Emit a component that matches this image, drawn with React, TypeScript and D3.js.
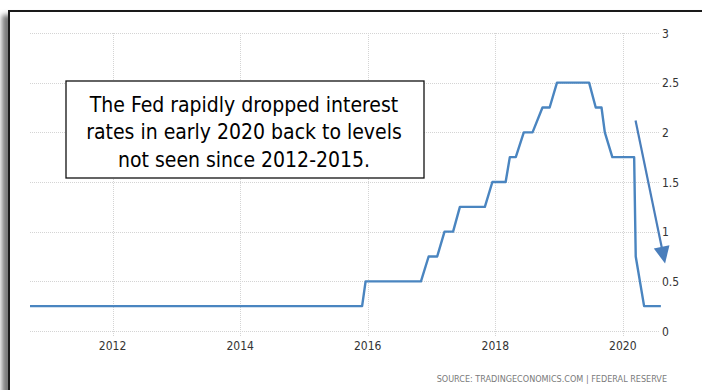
import React from "react";
import * as d3 from "d3";

const W = 702;
const H = 390;

// Fed funds rate (upper bound, %) step corners
const rateDates = [
  "2010-09-15", "2015-11-30", "2015-12-20", "2016-11-01", "2016-12-15",
  "2017-02-02", "2017-03-16", "2017-05-04", "2017-06-12", "2017-11-02",
  "2017-12-15", "2018-03-01", "2018-03-25", "2018-04-28", "2018-06-13",
  "2018-08-02", "2018-09-28", "2018-11-08", "2018-12-20", "2019-06-22",
  "2019-07-30", "2019-09-01", "2019-09-20", "2019-11-02", "2020-03-06",
  "2020-03-15", "2020-05-02", "2020-08-06",
];
const rateValues = [
  0.25, 0.25, 0.5, 0.5, 0.75,
  0.75, 1.0, 1.0, 1.25, 1.25,
  1.5, 1.5, 1.75, 1.75, 2.0,
  2.0, 2.25, 2.25, 2.5, 2.5,
  2.25, 2.25, 2.0, 1.75, 1.75,
  0.75, 0.25, 0.25,
];

const xTickYears = [2012, 2014, 2016, 2018, 2020];
const yTicks = [0, 0.5, 1, 1.5, 2, 2.5, 3];
const yTickLabels = ["0", "0.5", "1", "1.5", "2", "2.5", "3"];

const noteLines = [
  "The Fed rapidly dropped interest",
  "rates in early 2020 back to levels",
  "not seen since 2012-2015.",
];
const sourceText = "SOURCE: TRADINGECONOMICS.COM | FEDERAL RESERVE";

// arrow annotation in data space
const arrowFrom = { date: "2020-03-14", value: 2.12 };
const arrowTo = { date: "2020-08-30", value: 0.68 };

const parse = d3.utcParse("%Y-%m-%d");

export default function App() {
  const x = d3
    .scaleUtc()
    .domain([parse("2010-09-15")!, parse("2020-08-01")!])
    .range([30, 660]);
  const y = d3.scaleLinear().domain([0, 3]).range([331, 33]);

  const data = rateDates.map((d, i) => ({ date: parse(d)!, value: rateValues[i] }));
  const line = d3
    .line<{ date: Date; value: number }>()
    .x((d) => x(d.date))
    .y((d) => y(d.value));

  const ax1 = x(parse(arrowFrom.date)!);
  const ay1 = y(arrowFrom.value);
  const ax2 = x(parse(arrowTo.date)!);
  const ay2 = y(arrowTo.value);
  const len = Math.hypot(ax2 - ax1, ay2 - ay1);
  const ux = (ax2 - ax1) / len;
  const uy = (ay2 - ay1) / len;
  const headL = 17;
  const headW = 8;
  const bx = ax2 - ux * headL;
  const by = ay2 - uy * headL;
  const head = `M${ax2},${ay2} L${bx - uy * headW},${by + ux * headW} L${bx + uy * headW},${by - ux * headW} Z`;

  const axisFont = "'Liberation Sans Narrow', 'Arial Narrow', 'DejaVu Sans Condensed', sans-serif";

  return (
    <svg
      width={W}
      height={H}
      style={{ position: "absolute", left: 0, top: 0, display: "block" }}
    >
      <defs>
        <filter id="shadow" x="-20%" y="-20%" width="140%" height="140%">
          <feGaussianBlur stdDeviation="2.5" />
        </filter>
      </defs>
      <rect x={0} y={0} width={W} height={H} fill="#fff" />
      {/* slide frame with shadow */}
      <rect x={2} y={15} width={W + 20} height={H + 20} fill="#7a7a7a" filter="url(#shadow)" />
      <rect x={9} y={11} width={W + 20} height={H + 20} fill="#fff" stroke="#1a1a1a" strokeWidth={2} />

      {/* grid */}
      <g stroke="#d4d4d4" strokeWidth={1} strokeDasharray="1,1">
        {yTicks.map((t) => (
          <line key={"h" + t} x1={30} x2={660} y1={Math.round(y(t)) + 0.5} y2={Math.round(y(t)) + 0.5} />
        ))}
        {xTickYears.map((yr) => {
          const xx = Math.round(x(new Date(Date.UTC(yr, 0, 1)))) + 0.5;
          return <line key={"v" + yr} x1={xx} x2={xx} y1={33} y2={336} />;
        })}
      </g>

      {/* x labels */}
      <g fontFamily={axisFont} fontSize={12} fill="#333" textAnchor="middle">
        {xTickYears.map((yr) => (
          <text key={yr} x={x(new Date(Date.UTC(yr, 0, 1)))} y={349.5}>
            {yr}
          </text>
        ))}
      </g>
      {/* y labels */}
      <g fontFamily={axisFont} fontSize={12} fill="#333" textAnchor="start">
        {yTicks.map((t, i) => (
          <text key={t} x={662} y={y(t) + 4.5}>
            {yTickLabels[i]}
          </text>
        ))}
      </g>

      {/* series */}
      <path d={line(data) || ""} fill="none" stroke="#4a85c0" strokeWidth={2.4} strokeLinejoin="round" />

      {/* arrow */}
      <line x1={ax1} y1={ay1} x2={bx + ux * 2} y2={by + uy * 2} stroke="#4a7ebb" strokeWidth={2.2} />
      <path d={head} fill="#4a7ebb" />

      {/* note box */}
      <rect x={66} y={81} width={358} height={97} fill="#fff" stroke="#111" strokeWidth={1.3} />
      <g fontFamily="'DejaVu Sans Condensed', 'DejaVu Sans', sans-serif" fontSize={21} fill="#000" textAnchor="middle">
        {noteLines.map((l, i) => (
          <text key={i} x={244} y={111.5 + i * 27.5}>
            {l}
          </text>
        ))}
      </g>

      {/* source */}
      <text
        x={667}
        y={382}
        textAnchor="end"
        fontFamily={axisFont}
        fontSize={9}
        fill="#7a7a7a"
        xmlSpace="preserve"
      >
        {sourceText}
      </text>
    </svg>
  );
}
